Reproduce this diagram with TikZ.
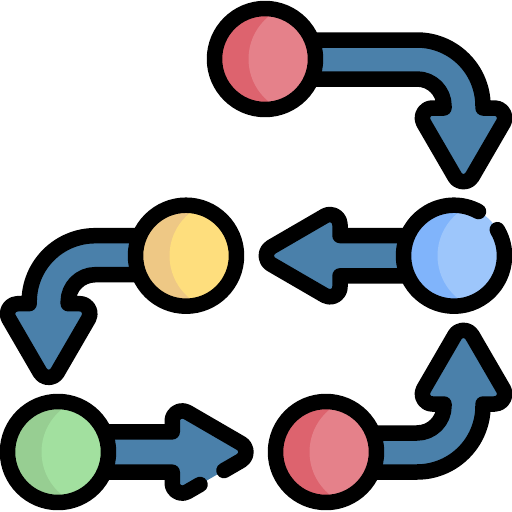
\documentclass[tikz,border=0pt]{standalone}
\usetikzlibrary{calc}
\definecolor{shaft}{HTML}{4A80AA}
\definecolor{redD}{HTML}{DD636E}
\definecolor{redL}{HTML}{E5818A}
\definecolor{yelD}{HTML}{EEC885}
\definecolor{yelL}{HTML}{FEDE7D}
\definecolor{bluD}{HTML}{80B4FB}
\definecolor{bluL}{HTML}{9DC6FB}
\definecolor{grnD}{HTML}{97CE92}
\definecolor{grnL}{HTML}{A2E09F}
\tikzset{
  ink/.style={draw=black,line width=15.5pt,line join=round,line cap=round},
  arrowfill/.style={fill=shaft},
  arrowline/.style={ink,fill=shaft}
}
% curved arrow, drawn once in the frame of the top arrow
\newcommand{\bentarrow}{%
  \path[arrowline] (300,40) -- (417,40) arc[start angle=-90,end angle=0,radius=66pt] -- (483,108)
    -- (494.7,108) arc[start angle=-90,end angle=30,radius=10pt]
    -- (472.16,176.75) arc[start angle=30,end angle=150,radius=10pt]
    -- (423.64,123) arc[start angle=150,end angle=270,radius=10pt]
    -- (444,108) -- (444,106)
    arc[start angle=0,end angle=-90,radius=27pt] -- (300,79);
}
\newcommand{\ballfill}[4]{%
  \coordinate (#1) at (#2);
  \fill[#3] (#1) circle[radius=50.5pt];
  \begin{scope}
    \clip (#1) circle[radius=50.5pt];
    \fill[#4] ($(#1)+(38.5,0)$) circle[radius=55pt];
  \end{scope}
}
\begin{document}
\begin{tikzpicture}[x=1pt,y=1pt,yscale=-1]
\useasboundingbox (0,0) rectangle (512,512);
\bentarrow
\begin{scope}[shift={(512.2,195.7)},xscale=-1]\bentarrow\end{scope}
\begin{scope}[shift={(0,512)},yscale=-1]\bentarrow\end{scope}
% straight arrow, blue to yellow (local frame: base at x=0, tip towards +x)
\begin{scope}[shift={(340,255.7)},xscale=-1]
\path[arrowline] (-100,-20.15) -- (0,-20.15) -- (0,-31.2)
  arc[start angle=180,end angle=300,radius=10pt] -- (68.75,-8.66)
  arc[start angle=-60,end angle=60,radius=10pt] -- (15,39.86)
  arc[start angle=60,end angle=180,radius=10pt] -- (0,20.15) -- (-100,20.15);
\end{scope}
% straight arrow, green onward: the outline has a gap on the lower edge of the head
\begin{scope}[shift={(172.25,452)}]
\fill[arrowfill] (-70,-20.15) -- (0,-20.15) -- (0,-31.2)
  arc[start angle=180,end angle=300,radius=10pt] -- (68.75,-8.66)
  arc[start angle=-60,end angle=60,radius=10pt] -- (15,39.86)
  arc[start angle=60,end angle=180,radius=10pt] -- (0,20.15) -- (-70,20.15) -- cycle;
\draw[ink] (51.75,18.5) -- (68.75,8.66) arc[start angle=60,end angle=-60,radius=10pt]
  -- (15,-39.86) arc[start angle=300,end angle=180,radius=10pt] -- (0,-20.15) -- (-70,-20.15);
\draw[ink] (27.75,32.5) -- (15,39.86) arc[start angle=60,end angle=180,radius=10pt] -- (0,20.15) -- (-70,20.15);
\end{scope}
% balls
\ballfill{a}{265,59}{redD}{redL}
\draw[ink] (a) circle[radius=50.5pt];
\ballfill{b}{454,255.7}{bluD}{bluL}
\draw[ink] ($(b)+(-31:50.5)$) arc[start angle=-31,end angle=299,radius=50.5pt];
\ballfill{c}{186,255.7}{yelD}{yelL}
\draw[ink] (c) circle[radius=50.5pt];
\ballfill{d}{58,452}{grnD}{grnL}
\draw[ink] (d) circle[radius=50.5pt];
\ballfill{e}{326,452}{redD}{redL}
\draw[ink] (e) circle[radius=50.5pt];
\end{tikzpicture}
\end{document}
